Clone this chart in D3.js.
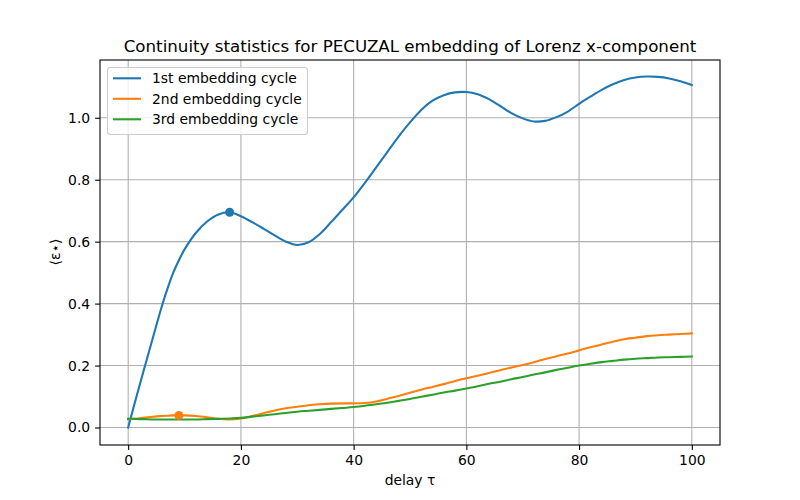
<!DOCTYPE html>
<html>
<head>
<meta charset="utf-8">
<script src="https://cdn.jsdelivr.net/npm/d3@7"></script>
<style>
  body { margin: 0; background: #fff; }
  svg { display: block; font-family: "DejaVu Sans", sans-serif; }
</style>
</head>
<body>
<svg id="chart" width="800" height="500"></svg>
<script>
const title = "Continuity statistics for PECUZAL embedding of Lorenz x-component";
const xLabel = "delay τ";
const yLabel = "⟨ε⋆⟩";
const seriesNames = ["1st embedding cycle", "2nd embedding cycle", "3rd embedding cycle"];
const seriesColors = ["#1f77b4", "#ff7f0e", "#2ca02c"];
const xTicks = [0, 20, 40, 60, 80, 100];
const yTicks = [0.0, 0.2, 0.4, 0.6, 0.8, 1.0];

const tau = [0,1,2,3,4,5,6,7,8,9,10,12,14,16,18,20,22,24,26,28,30,32,34,36,38,40,42,44,46,48,50,52,54,56,58,60,62,64,66,68,70,72,74,76,78,80,82,84,86,88,90,92,94,96,98,100];

const cycle1 = [0,0.068,0.135,0.2,0.265,0.33,0.393,0.45,0.5,0.54,0.575,0.628,0.665,0.688,0.695,0.682,0.663,0.642,0.62,0.6,0.589,0.598,0.625,0.663,0.703,0.743,0.79,0.84,0.89,0.94,0.985,1.025,1.055,1.073,1.082,1.083,1.076,1.06,1.038,1.015,0.998,0.988,0.99,1.002,1.02,1.045,1.068,1.09,1.108,1.122,1.13,1.133,1.132,1.127,1.118,1.106];

const cycle2 = [0.027,0.028,0.03,0.032,0.034,0.036,0.037,0.038,0.039,0.039,0.039,0.037,0.033,0.028,0.026,0.029,0.037,0.046,0.055,0.062,0.067,0.072,0.075,0.077,0.078,0.078,0.079,0.084,0.093,0.102,0.112,0.122,0.131,0.14,0.15,0.159,0.167,0.176,0.185,0.194,0.202,0.211,0.221,0.23,0.239,0.249,0.259,0.268,0.277,0.285,0.29,0.295,0.298,0.3,0.302,0.304];

const cycle3 = [0.028,0.028,0.027,0.027,0.026,0.026,0.026,0.026,0.026,0.026,0.026,0.026,0.027,0.028,0.029,0.031,0.035,0.039,0.043,0.047,0.051,0.054,0.057,0.06,0.063,0.066,0.07,0.075,0.08,0.086,0.092,0.099,0.106,0.113,0.119,0.126,0.133,0.141,0.148,0.156,0.163,0.171,0.178,0.186,0.193,0.2,0.206,0.211,0.215,0.219,0.222,0.224,0.226,0.227,0.228,0.229];

const markerTau = [18, 9];
const markerVal = [0.695, 0.039];

const seriesValues = [cycle1, cycle2, cycle3];

const svg = d3.select("#chart");
const L = 100, R = 720, T = 60, B = 445;

const x = d3.scaleLinear().domain([-5, 105]).range([L, R]);
const y = d3.scaleLinear().domain([-0.0565, 1.1865]).range([B, T]);

// grid
const grid = svg.append("g");
xTicks.forEach(t => grid.append("line")
  .attr("x1", x(t)).attr("x2", x(t)).attr("y1", T).attr("y2", B)
  .attr("stroke", "#b0b0b0").attr("stroke-width", 1.1));
yTicks.forEach(t => grid.append("line")
  .attr("x1", L).attr("x2", R).attr("y1", y(t)).attr("y2", y(t))
  .attr("stroke", "#b0b0b0").attr("stroke-width", 1.1));

// axes
const xAxis = d3.axisBottom(x).tickValues(xTicks).tickFormat(d3.format("d")).tickSize(4.9).tickPadding(4.9);
const yAxis = d3.axisLeft(y).tickValues(yTicks).tickFormat(d3.format(".1f")).tickSize(4.9).tickPadding(4.9);

const gx = svg.append("g").attr("transform", `translate(0,${B})`).call(xAxis);
const gy = svg.append("g").attr("transform", `translate(${L},0)`).call(yAxis);
[gx, gy].forEach(g => {
  g.select(".domain").remove();
  g.selectAll(".tick line").attr("stroke", "#000").attr("stroke-width", 1.1);
  g.selectAll(".tick text").attr("font-size", 13.9).attr("fill", "#000")
    .attr("font-family", "DejaVu Sans, sans-serif");
});

// lines
const clip = svg.append("clipPath").attr("id", "clip").append("rect")
  .attr("x", L).attr("y", T).attr("width", R - L).attr("height", B - T);
const lineGen = d3.line().x((d, i) => x(tau[i])).y(d => y(d)).curve(d3.curveCatmullRom.alpha(0.5));
const plot = svg.append("g").attr("clip-path", "url(#clip)");
seriesValues.forEach((vals, k) => {
  plot.append("path").datum(vals).attr("d", lineGen)
    .attr("fill", "none").attr("stroke", seriesColors[k]).attr("stroke-width", 2.1)
    .attr("stroke-linejoin", "round").attr("stroke-linecap", "square");
});
markerTau.forEach((t, k) => {
  plot.append("circle").attr("cx", x(t)).attr("cy", y(markerVal[k])).attr("r", 4.5)
    .attr("fill", seriesColors[k]);
});

// frame
svg.append("rect").attr("x", L).attr("y", T).attr("width", R - L).attr("height", B - T)
  .attr("fill", "none").attr("stroke", "#000").attr("stroke-width", 1.1);

// title and labels
svg.append("text").attr("x", (L + R) / 2).attr("y", 52).attr("text-anchor", "middle")
  .attr("font-size", 16.7).attr("fill", "#000").text(title);
svg.append("text").attr("x", (L + R) / 2).attr("y", 485).attr("text-anchor", "middle")
  .attr("font-size", 13.9).attr("fill", "#000").text(xLabel);
svg.append("text").attr("transform", "translate(60,252) rotate(-90)").attr("text-anchor", "middle")
  .attr("font-size", 13.9).attr("fill", "#000").text(yLabel);

// legend
const lg = svg.append("g");
lg.append("rect").attr("x", 107.5).attr("y", 67.5).attr("width", 200).attr("height", 67)
  .attr("rx", 3).attr("fill", "#fff").attr("fill-opacity", 0.8)
  .attr("stroke", "#cccccc").attr("stroke-width", 1.1);
seriesNames.forEach((name, k) => {
  const yy = 78.3 + k * 20.5;
  lg.append("line").attr("x1", 113).attr("x2", 141).attr("y1", yy).attr("y2", yy)
    .attr("stroke", seriesColors[k]).attr("stroke-width", 2.1);
  lg.append("text").attr("x", 152).attr("y", yy + 5).attr("font-size", 13.9)
    .attr("fill", "#000").text(name);
});
</script>
</body>
</html>
